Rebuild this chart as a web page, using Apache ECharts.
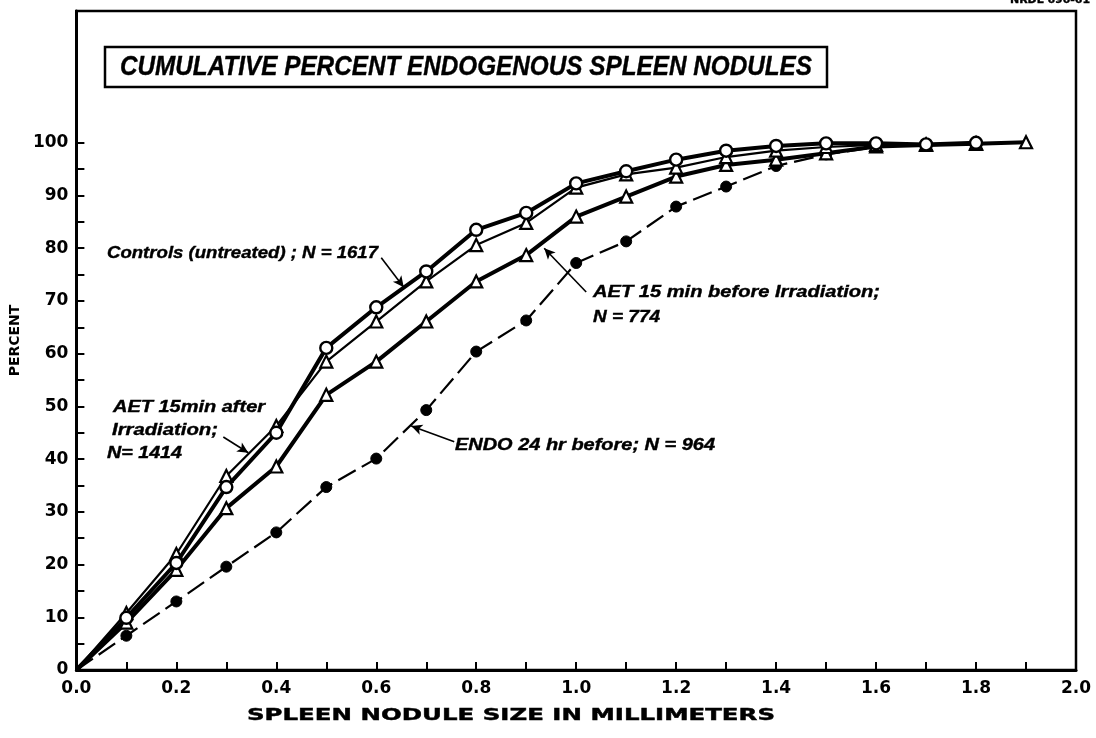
<!DOCTYPE html>
<html>
<head>
<meta charset="utf-8">
<script src="https://cdn.jsdelivr.net/npm/echarts@6/dist/echarts.min.js"></script>
<style>
html,body{margin:0;padding:0;background:#fff;}
#c{width:1096px;height:738px;}
</style>
</head>
<body>
<div id="c"></div>
<script>
// ---- data ----
const sizeMM = [0, 0.1, 0.2, 0.3, 0.4, 0.5, 0.6, 0.7, 0.8, 0.9, 1.0, 1.1, 1.2, 1.3, 1.4, 1.5, 1.6, 1.7, 1.8, 1.9];
const controlsPct  = [0, 9.9, 20.3, 34.7, 45.0, 61.1, 68.8, 75.6, 83.5, 86.7, 92.3, 94.6, 96.8, 98.5, 99.4, 99.9, 99.9, 99.7, 100];
const aetAfterPct  = [0, 10.8, 22.0, 36.8, 46.3, 58.5, 66.1, 73.7, 80.6, 84.8, 91.5, 94.0, 95.3, 97.3, 98.5, 99.2, 99.6, 99.7, 99.9];
const aetBeforePct = [0, 9.0, 19.0, 30.7, 38.6, 52.2, 58.5, 66.1, 73.7, 78.7, 86.0, 89.8, 93.6, 95.8, 96.8, 98.0, 99.3, 99.6, 99.8, 100.1];
const endoPct      = [0, 6.5, 13.0, 19.6, 26.1, 34.7, 40.1, 49.3, 60.4, 66.3, 77.2, 81.3, 87.9, 91.7, 95.6, 97.8, 99.2, 99.6, 99.8];
const xLabelValues = [0, 0.2, 0.4, 0.6, 0.8, 1.0, 1.2, 1.4, 1.6, 1.8, 2.0];
const yLabelValues = [0, 10, 20, 30, 40, 50, 60, 70, 80, 90, 100];
const yTickValues  = [0,5,10,15,20,25,30,35,40,45,50,55,60,65,70,75,80,85,90,95,100];

function pairs(vals){
  return vals.map((v,i)=> i===0 ? {value:[sizeMM[i], v], symbol:'none'} : [sizeMM[i], v]);
}

const mctx = document.createElement('canvas').getContext('2d');
function measure(str, font){ mctx.font = font; return mctx.measureText(str).width; }
function stext(str, x, y, w, size, family, weight, style){
  const font = (style||'normal') + ' ' + (weight||'bold') + ' ' + size + 'px ' + family;
  const nat = measure(str, font);
  return {
    type:'text', x:x, y:y, scaleX: w/nat, silent:true,
    style:{text:str, fontSize:size, fontFamily:family, fontWeight:weight||'bold', fontStyle:style||'normal',
           fill:'#000', stroke:'#000', lineWidth:0.4, textAlign:'left', textVerticalAlign:'middle'}
  };
}
const AF = '"Liberation Sans", Arial, sans-serif';
const DF = '"DejaVu Sans", sans-serif';

const arrowML = (a, b, curv) => ({
  silent:true, animation:false, symbol:['none','arrow'], symbolSize:[8,11],
  label:{show:false},
  lineStyle:{color:'#000', width:1.6, type:'solid', curveness:curv||0},
  data:[[{coord:a},{coord:b}]]
});

const chart = echarts.init(document.getElementById('c'), null, {renderer:'canvas'});
const option = {
  animation:false,
  backgroundColor:'#fff',
  grid:{left:76, right:20, top:11, bottom:68, show:true, borderColor:'#000', borderWidth:2.5, backgroundColor:'rgba(0,0,0,0)'},
  xAxis:{
    type:'value', min:0, max:2, interval:0.1,
    axisLine:{show:true, onZero:false, lineStyle:{color:'#000', width:3}},
    axisTick:{show:true, inside:true, length:8, lineStyle:{color:'#000', width:2}},
    axisLabel:{customValues:xLabelValues, formatter:v=>Number(v).toFixed(1), color:'#000', fontFamily:DF, fontWeight:'bold', fontSize:17, margin:10},
    splitLine:{show:false}
  },
  yAxis:{
    type:'value', min:0, max:125, interval:5,
    name:'PERCENT', nameLocation:'middle', nameGap:49,
    nameTextStyle:{color:'#000', fontFamily:DF, fontWeight:'bold', fontSize:14},
    axisLine:{show:true, onZero:false, lineStyle:{color:'#000', width:3}},
    axisTick:{show:true, inside:true, length:8, customValues:yTickValues, lineStyle:{color:'#000', width:2}},
    axisLabel:{customValues:yLabelValues, color:'#000', fontFamily:DF, fontWeight:'bold', fontSize:17, margin:8},
    splitLine:{show:false}
  },
  series:[
    {
      name:'ENDO 24 hr before; N = 964', type:'line', data:pairs(endoPct),
      symbol:'circle', symbolSize:11, z:2,
      lineStyle:{color:'#000', width:2.2, type:[20,7]},
      itemStyle:{color:'#000', borderColor:'#000', borderWidth:1},
      markLine: arrowML([0.756,43.3],[0.67,46.3],0.25)
    },
    {
      name:'AET 15 min before Irradiation; N = 774', type:'line', data:pairs(aetBeforePct),
      symbol:'triangle', symbolSize:12, z:3,
      lineStyle:{color:'#000', width:4},
      itemStyle:{color:'#fff', borderColor:'#000', borderWidth:2.2},
      markLine: arrowML([1.02,71.7],[0.936,80.0],0.35)
    },
    {
      name:'AET 15min after Irradiation; N = 1414', type:'line', data:pairs(aetAfterPct),
      symbol:'triangle', symbolSize:12, z:4,
      lineStyle:{color:'#000', width:2.2},
      itemStyle:{color:'#fff', borderColor:'#000', borderWidth:2.2},
      markLine: arrowML([0.294,44.2],[0.344,41.2],0)
    },
    {
      name:'Controls (untreated); N = 1617', type:'line', data:pairs(controlsPct),
      symbol:'circle', symbolSize:12, z:5,
      lineStyle:{color:'#000', width:4},
      itemStyle:{color:'#fff', borderColor:'#000', borderWidth:2.4},
      markLine: arrowML([0.61,78.2],[0.655,72.6],0)
    }
  ],
  graphic:[
    {type:'rect', silent:true, shape:{x:105, y:47, width:722, height:40}, style:{fill:'#fff', stroke:'#000', lineWidth:2.5}, z:10},
    Object.assign(stext('CUMULATIVE PERCENT ENDOGENOUS SPLEEN NODULES', 120, 67, 692, 28, AF, 'bold', 'italic'), {z:11}),
    stext('Controls (untreated) ; N = 1617', 107, 253, 271, 17, AF, 'bold', 'italic'),
    stext('AET 15min after', 113, 407, 152, 17, AF, 'bold', 'italic'),
    stext('Irradiation;', 112, 430, 106, 17, AF, 'bold', 'italic'),
    stext('N= 1414', 107, 453, 75, 17, AF, 'bold', 'italic'),
    stext('AET 15 min before Irradiation;', 593, 292, 287, 17, AF, 'bold', 'italic'),
    stext('N = 774', 593, 317, 67, 17, AF, 'bold', 'italic'),
    stext('ENDO 24 hr before; N = 964', 455, 445, 260, 17, AF, 'bold', 'italic'),
    stext('SPLEEN NODULE SIZE IN MILLIMETERS', 247, 716, 528, 15, DF, 'bold', 'normal'),
    stext('NRDL 690-61', 1010, 0, 80, 11, DF, 'bold', 'normal')
  ]
};
chart.setOption(option);
</script>
</body>
</html>
